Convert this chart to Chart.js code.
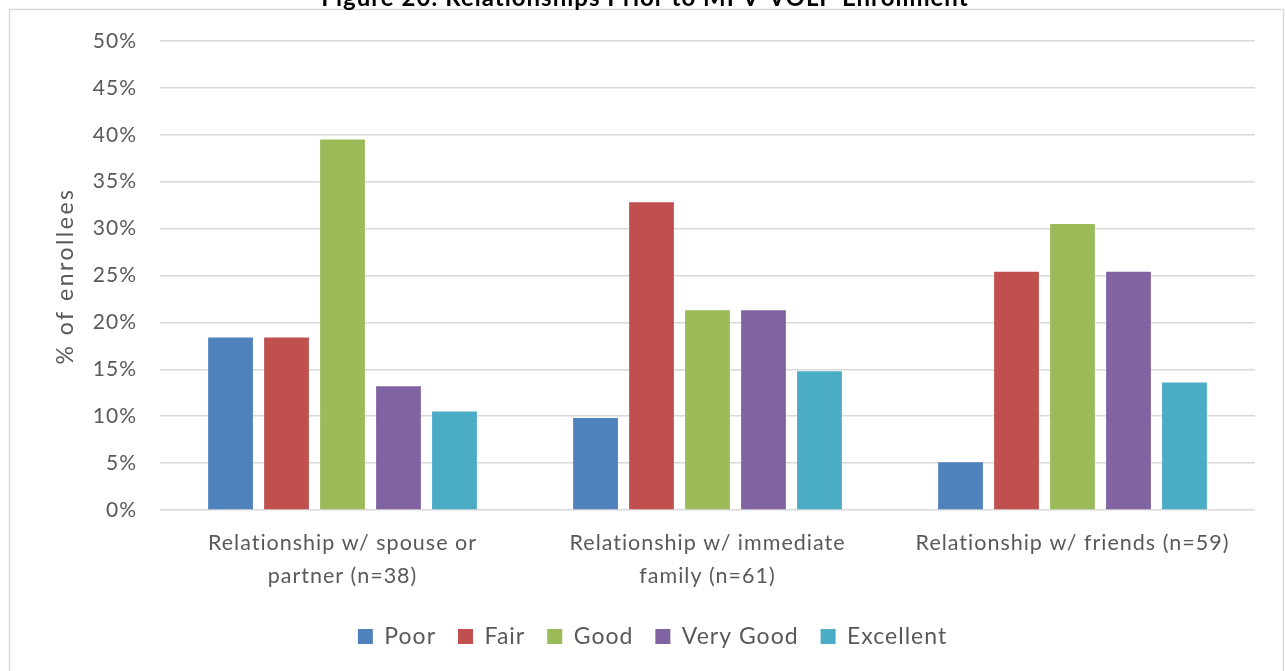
<!DOCTYPE html>
<html>
<head>
<meta charset="utf-8">
<script src="https://cdn.jsdelivr.net/npm/chart.js@4.4.0/dist/chart.umd.min.js"></script>
<style>
  body { margin: 0; background: #fff; }
  #wrap { width: 1285px; height: 671px; }
</style>
</head>
<body>
<div id="wrap"><canvas id="relChart" width="1285" height="671"></canvas></div>
<script>
// Data (% of enrollees)
const categories = [
    ['Relationship w/ spouse or', 'partner (n=38)'],
    ['Relationship w/ immediate', 'family (n=61)'],
    ['Relationship w/ friends (n=59)']
];
const poor = [18.4, 9.8, 5.1];
const fair = [18.4, 32.8, 25.4];
const good = [39.5, 21.3, 30.5];
const veryGood = [13.2, 21.3, 25.4];
const excellent = [10.5, 14.8, 13.6];
const seriesNames = ['Poor', 'Fair', 'Good', 'Very Good', 'Excellent'];
const seriesColors = ['#4F81BD', '#C0504D', '#9BBB59', '#8064A2', '#4BACC6'];
const titleText = 'Figure 20: Relationships Prior to MPV-VOLP Enrollment';
const yTitle = '% of enrollees';

const fontFamily = 'Lato, "Open Sans", sans-serif';
const textColor = '#595959';

// the source text is a bit spread out, so add some letter spacing everywhere
function setSpacing(chart) {
    chart.ctx.letterSpacing = '1px';
}

// frame, clipped title and the y axis title
const framePlugin = {
    id: 'frame',
    beforeUpdate: setSpacing,
    beforeLayout: setSpacing,
    beforeDraw(chart) {
        const ctx = chart.ctx;
        ctx.save();
        ctx.fillStyle = '#fff';
        ctx.fillRect(0, 0, chart.width, chart.height);
        ctx.strokeStyle = '#d9d9d9';
        ctx.lineWidth = 1.5;
        ctx.strokeRect(9.5, 9.5, 1274, 670);
        ctx.fillStyle = '#000';
        ctx.font = 'bold 24px ' + fontFamily;
        ctx.textAlign = 'center';
        ctx.textBaseline = 'alphabetic';
        ctx.fillText(titleText, 645, 6);

        ctx.translate(66, 276);
        ctx.rotate(-Math.PI / 2);
        ctx.letterSpacing = '2.5px';
        ctx.font = '23px ' + fontFamily;
        ctx.fillStyle = textColor;
        ctx.textBaseline = 'middle';
        ctx.fillText(yTitle, 0, 0);
        ctx.restore();
        setSpacing(chart);
    }
};

const allValues = [poor, fair, good, veryGood, excellent];

const ctx = document.getElementById('relChart').getContext('2d');
new Chart(ctx, {
    type: 'bar',
    data: {
        labels: categories,
        datasets: seriesNames.map((name, i) => ({
            label: name,
            data: allValues[i],
            backgroundColor: seriesColors[i],
            borderWidth: 0,
            categoryPercentage: 0.767,
            barPercentage: 0.8
        }))
    },
    options: {
        responsive: false,
        animation: false,
        layout: { padding: { left: 50, right: 30, top: 41, bottom: 13 } },
        plugins: {
            title: { display: false },
            tooltip: { enabled: false },
            legend: {
                position: 'bottom',
                labels: {
                    color: textColor,
                    font: { family: fontFamily, size: 23 },
                    boxWidth: 15,
                    boxHeight: 15,
                    padding: 22
                }
            }
        },
        scales: {
            x: {
                grid: { display: false, drawTicks: false },
                border: { display: false },
                ticks: {
                    color: textColor,
                    font: { family: fontFamily, size: 21.5, lineHeight: 1.52 },
                    padding: 17,
                    maxRotation: 0,
                    autoSkip: false
                },
                afterFit(scale) { scale.height = 93; }
            },
            y: {
                min: 0,
                max: 50,
                grid: { color: '#d9d9d9', lineWidth: 1.5, drawTicks: false },
                border: { display: false },
                ticks: {
                    stepSize: 5,
                    color: textColor,
                    font: { family: fontFamily, size: 21 },
                    padding: 23,
                    callback: v => v + '%'
                },
                afterFit(scale) { scale.width = 110; }
            }
        }
    },
    plugins: [framePlugin]
});
</script>
</body>
</html>
